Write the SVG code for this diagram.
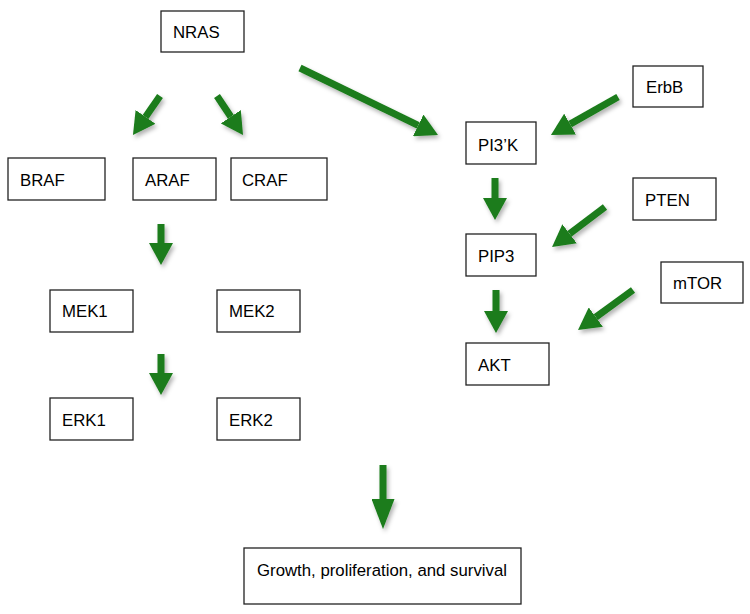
<svg xmlns="http://www.w3.org/2000/svg" width="750" height="614" viewBox="0 0 750 614">
  <defs>
    <style>
      .box { fill: #ffffff; stroke: #222222; stroke-width: 1.3; }
      .lbl { font-family: "Liberation Sans", Arial, sans-serif; font-size: 16.8px; fill: #000000; }
      .arr { fill: none; stroke: #1a7c1a; stroke-width: 7; marker-end: url(#head); }
      .arrL { fill: none; stroke: #1a7c1a; stroke-width: 7; marker-end: url(#headL); }
    </style>
    <marker id="head" viewBox="0 0 22 24" refX="0" refY="12" markerWidth="22" markerHeight="24" markerUnits="userSpaceOnUse" orient="auto">
      <path d="M0,0 L22,12 L0,24 Z" fill="#1a7c1a"/>
    </marker>
    <marker id="headL" viewBox="0 0 30 23" refX="0" refY="11.5" markerWidth="30" markerHeight="23" markerUnits="userSpaceOnUse" orient="auto">
      <path d="M0,0 L30,11.5 L0,23 Z" fill="#1a7c1a"/>
    </marker>
    <filter id="shadow" x="-20%" y="-20%" width="140%" height="140%">
      <feDropShadow dx="2" dy="3" stdDeviation="2" flood-color="#000000" flood-opacity="0.3"/>
    </filter>
  </defs>
  <rect width="750" height="614" fill="#ffffff"/>

  <g id="connectors" filter="url(#shadow)">
    <line class="arr" x1="160" y1="96" x2="145.5" y2="116.9"/>
    <line class="arr" x1="217" y1="96" x2="230.8" y2="116.7"/>
    <line class="arr" x1="300" y1="68" x2="418.2" y2="125.4"/>
    <line class="arr" x1="161" y1="224" x2="161" y2="243"/>
    <line class="arr" x1="161" y1="354" x2="161" y2="373"/>
    <line class="arrL" x1="383" y1="465" x2="383" y2="499"/>
    <line class="arr" x1="495" y1="178" x2="495" y2="198"/>
    <line class="arr" x1="496" y1="290" x2="496" y2="311"/>
    <line class="arr" x1="618" y1="97" x2="570.1" y2="124.1"/>
    <line class="arr" x1="605" y1="207" x2="569.6" y2="233.8"/>
    <line class="arr" x1="633" y1="290" x2="595.8" y2="317.1"/>
  </g>

  <g id="NRAS"><rect class="box" x="161" y="11" width="83" height="41"/><text class="lbl" x="173" y="38">NRAS</text></g>
  <g id="BRAF"><rect class="box" x="8" y="158" width="97" height="42"/><text class="lbl" x="20" y="186">BRAF</text></g>
  <g id="ARAF"><rect class="box" x="133" y="158" width="83" height="42"/><text class="lbl" x="145" y="186">ARAF</text></g>
  <g id="CRAF"><rect class="box" x="231" y="158" width="96" height="42"/><text class="lbl" x="242" y="186">CRAF</text></g>
  <g id="MEK1"><rect class="box" x="50" y="290" width="83" height="42"/><text class="lbl" x="62" y="317">MEK1</text></g>
  <g id="MEK2"><rect class="box" x="217" y="290" width="83" height="42"/><text class="lbl" x="229" y="317">MEK2</text></g>
  <g id="ERK1"><rect class="box" x="50" y="398" width="83" height="42"/><text class="lbl" x="62" y="426">ERK1</text></g>
  <g id="ERK2"><rect class="box" x="217" y="398" width="83" height="42"/><text class="lbl" x="229" y="426">ERK2</text></g>
  <g id="ErbB"><rect class="box" x="633" y="66" width="70" height="41"/><text class="lbl" x="646" y="93">ErbB</text></g>
  <g id="PI3K"><rect class="box" x="466" y="122" width="70" height="42"/><text class="lbl" x="478" y="151">PI3’K</text></g>
  <g id="PTEN"><rect class="box" x="633" y="178" width="83" height="42"/><text class="lbl" x="645" y="206">PTEN</text></g>
  <g id="PIP3"><rect class="box" x="466" y="234" width="70" height="42"/><text class="lbl" x="478" y="262">PIP3</text></g>
  <g id="mTOR"><rect class="box" x="661" y="262" width="82" height="41"/><text class="lbl" x="673" y="289">mTOR</text></g>
  <g id="AKT"><rect class="box" x="466" y="343" width="83" height="42"/><text class="lbl" x="478" y="371">AKT</text></g>
  <g id="Growth"><rect class="box" x="244" y="548" width="277" height="56"/><text class="lbl" x="257" y="576">Growth, proliferation, and survival</text></g>
</svg>
